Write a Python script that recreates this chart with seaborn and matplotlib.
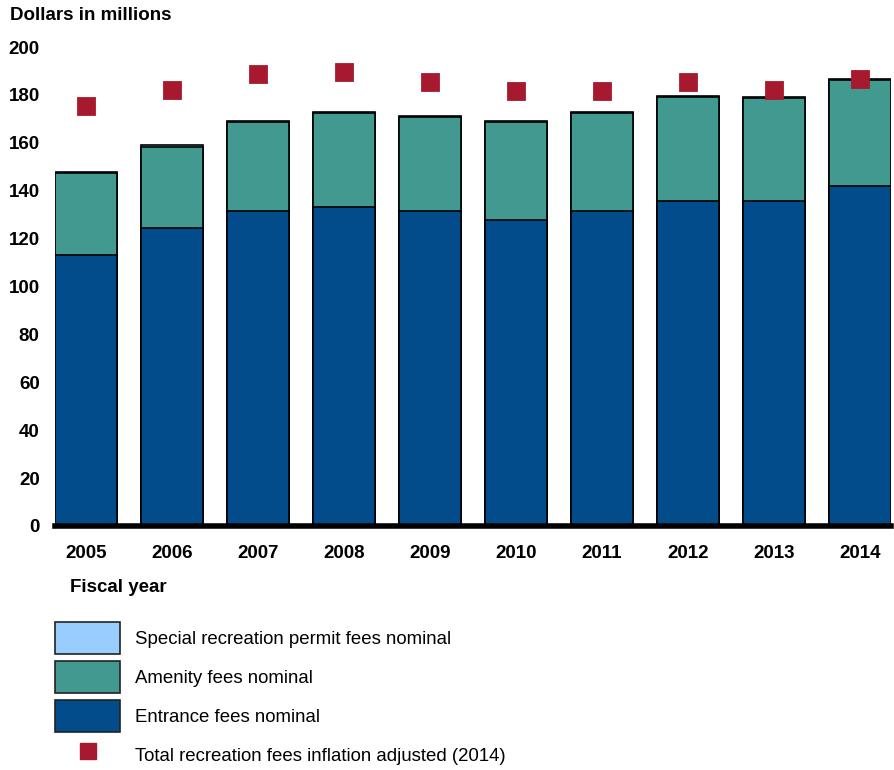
import numpy as np
import pandas as pd
import matplotlib
matplotlib.use("Agg")
import matplotlib.pyplot as plt
from matplotlib.patches import Patch
from matplotlib.lines import Line2D
import seaborn as sns

years = ["2005", "2006", "2007", "2008", "2009", "2010", "2011", "2012", "2013", "2014"]
entrance = [113.2, 124.4, 131.5, 133.2, 131.5, 127.8, 131.5, 135.7, 135.7, 142.0]
amenity = [34.0, 33.7, 37.0, 39.3, 39.4, 41.1, 41.1, 43.5, 43.1, 44.2]
special = [0.8, 0.8, 0.5, 0.4, 0.4, 0.3, 0.3, 0.3, 0.3, 0.3]
adjusted = [175.4, 182.0, 188.7, 189.4, 185.4, 181.5, 181.8, 185.4, 182.2, 186.5]

C_ENT = "#034C8C"
C_AMEN = "#419990"
C_SPEC = "#99CCFF"
C_ADJ = "#A6192E"

sns.set_theme(style="white")
plt.rcParams["font.family"] = ["Liberation Sans", "DejaVu Sans"]
plt.rcParams["text.color"] = "black"

df = pd.DataFrame({"year": years, "entrance": entrance, "amenity": amenity,
                   "special": special, "adjusted": adjusted})
df["ent_amen"] = df["entrance"] + df["amenity"]
df["total"] = df["ent_amen"] + df["special"]

fig = plt.figure(figsize=(8.94, 7.70), dpi=100)
ax = fig.add_axes([0.0615, 0.3169, 0.9351, 0.622])

# stacked bars drawn as cumulative layers, back to front
for col, colr in [("total", C_SPEC), ("ent_amen", C_AMEN), ("entrance", C_ENT)]:
    sns.barplot(data=df, x="year", y=col, color=colr, saturation=1, width=0.72,
                edgecolor="black", linewidth=1.2, ax=ax, errorbar=None)

sns.pointplot(data=df, x="year", y="adjusted", color=C_ADJ, marker="s",
              markersize=11, linestyle="none", errorbar=None, ax=ax)

ax.set_ylim(0, 200)
ax.set_xlim(-0.36, 9.36)
ax.set_yticks(np.arange(0, 201, 20))
ax.set_xlabel("")
ax.set_ylabel("")
for s in ["left", "right", "top"]:
    ax.spines[s].set_visible(False)
ax.spines["bottom"].set_color("black")
ax.spines["bottom"].set_linewidth(4)
ax.tick_params(axis="both", length=0, labelsize=13.5, colors="black")
ax.tick_params(axis="x", pad=14)
ax.tick_params(axis="y", pad=11)
for lab in ax.get_xticklabels() + ax.get_yticklabels():
    lab.set_fontweight("bold")
ax.grid(False)

fig.text(10 / 894, 1 - 15 / 770, "Dollars in millions", fontsize=13.5,
         fontweight="bold", ha="left", va="center")
fig.text(70 / 894, 1 - 587 / 770, "Fiscal year", fontsize=13.5,
         fontweight="bold", ha="left", va="center")

handles = [
    Patch(facecolor=C_SPEC, edgecolor="#222222", linewidth=1.2),
    Patch(facecolor=C_AMEN, edgecolor="#222222", linewidth=1.2),
    Patch(facecolor=C_ENT, edgecolor="#222222", linewidth=1.2),
    Line2D([], [], marker="s", color=C_ADJ, linestyle="none", markersize=11),
]
labels = [
    "Special recreation permit fees nominal",
    "Amenity fees nominal",
    "Entrance fees nominal",
    "Total recreation fees inflation adjusted (2014)",
]
fig.legend(handles, labels, loc="upper left", bbox_to_anchor=(55 / 894, 1 - 622 / 770),
           frameon=False, fontsize=13.4, handlelength=3.5, handleheight=2.25,
           handletextpad=0.8, labelspacing=0.4, borderaxespad=0, borderpad=0)

fig.savefig("out.png", dpi=100)
